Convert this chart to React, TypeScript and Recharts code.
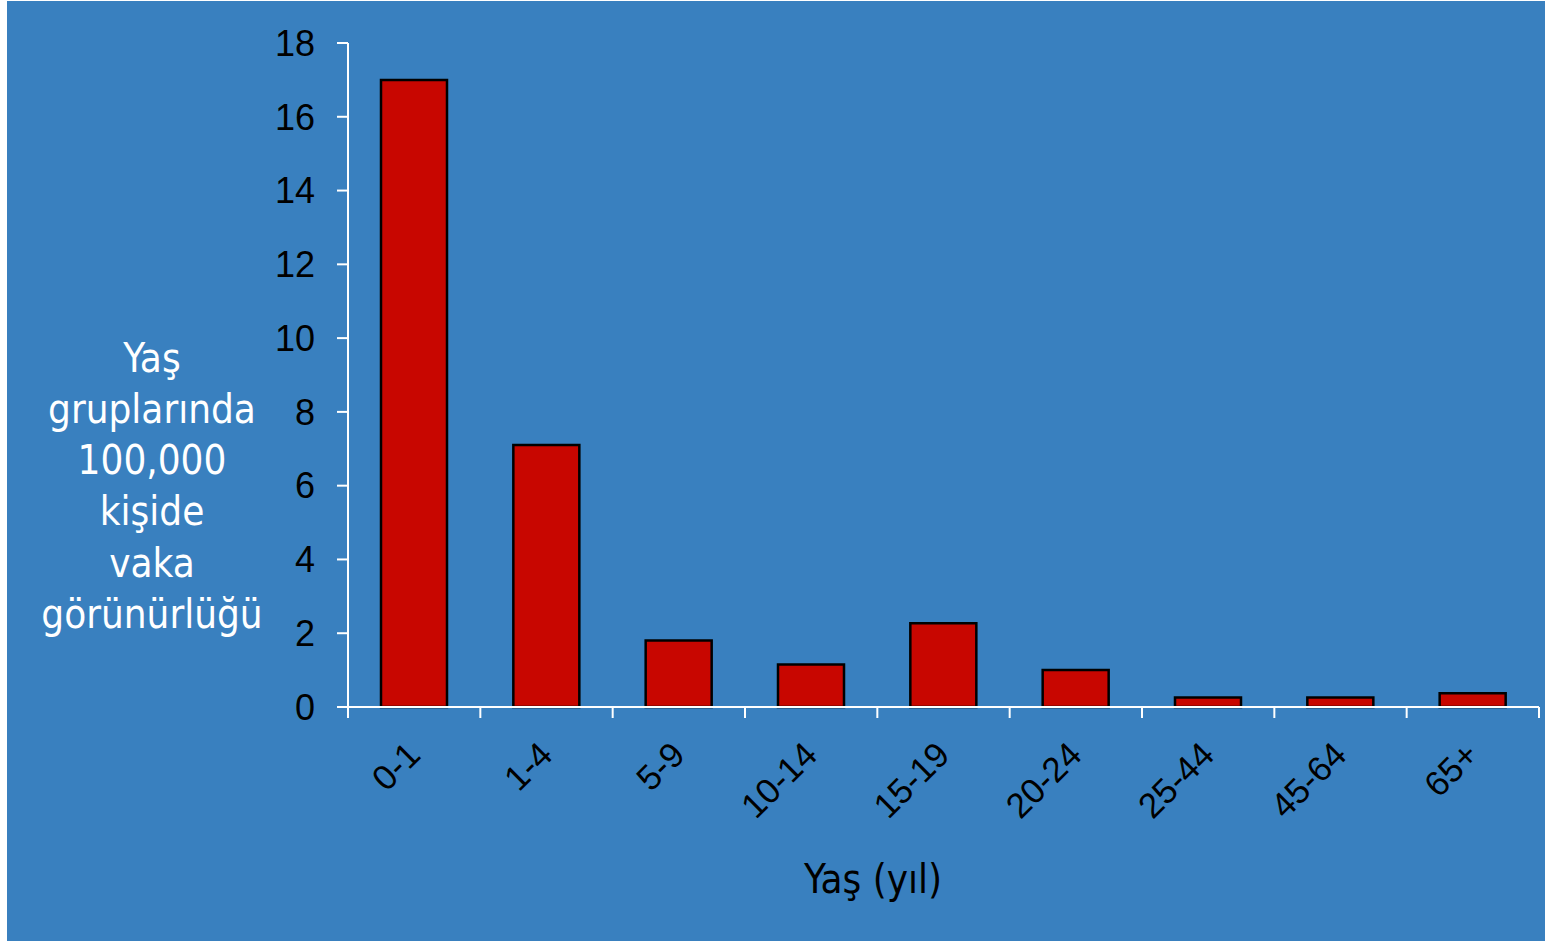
import React from 'react';
import { BarChart, Bar, XAxis, YAxis, Label } from 'recharts';

const categories = ['0-1', '1-4', '5-9', '10-14', '15-19', '20-24', '25-44', '45-64', '65+'];
const incidence = [17.0, 7.1, 1.8, 1.15, 2.27, 1.0, 0.26, 0.26, 0.37];
const yTicks = [0, 2, 4, 6, 8, 10, 12, 14, 16, 18];
const yTitleLines = ['Yaş', 'gruplarında', '100,000', 'kişide', 'vaka', 'görünürlüğü'];
const xTitle = 'Yaş (yıl)';

const data = categories.map((c, i) => ({ name: c, value: incidence[i] }));

const BG = '#3980bf';
const LABEL_FONT = '"DejaVu Sans Condensed", "DejaVu Sans", sans-serif';
const TICK_FONT = '"Liberation Sans", Arial, sans-serif';

const XTick = (props: any) => {
  const { x, y, payload, index, visibleTicksCount, width } = props;
  const n = visibleTicksCount || categories.length;
  const bw = (typeof width === 'number' && width > 0 ? width : 1191) / n;
  const ax = x + 8;
  const ay = y + 50;
  return (
    <g>
      <line x1={x - bw / 2} y1={y} x2={x - bw / 2} y2={y + 11} stroke="#fff" strokeWidth={2} />
      {index === n - 1 && (
        <line x1={x + bw / 2} y1={y} x2={x + bw / 2} y2={y + 11} stroke="#fff" strokeWidth={2} />
      )}
      <text
        x={ax}
        y={ay}
        transform={`rotate(-45 ${ax} ${ay})`}
        textAnchor="end"
        fill="#000"
        fontSize={35}
        fontFamily={TICK_FONT}
      >
        {payload.value}
      </text>
    </g>
  );
};

const YTitle = () => (
  <text textAnchor="middle" fill="#fff" fontSize={40} fontFamily={LABEL_FONT}>
    {yTitleLines.map((l, i) => (
      <tspan key={i} x={145} y={370.5 + i * 51.3}>
        {l}
      </tspan>
    ))}
  </text>
);

const XTitle = () => (
  <text x={866} y={892} textAnchor="middle" fill="#000" fontSize={40} fontFamily={LABEL_FONT}>
    {xTitle}
  </text>
);

export default function App() {
  return (
    <div
      style={{
        position: 'absolute',
        left: 7,
        top: 1,
        width: 1538,
        height: 940,
        background: BG,
      }}
    >
      <BarChart
        width={1538}
        height={940}
        data={data}
        margin={{ top: 42, right: 6, left: 0, bottom: 0 }}
        barSize={66}
      >
        <XAxis
          dataKey="name"
          height={234}
          interval={0}
          axisLine={{ stroke: '#fff', strokeWidth: 2 }}
          tickLine={false}
          tickSize={0}
          tickMargin={0}
          tick={<XTick />}
        >
          <Label content={<XTitle />} />
        </XAxis>
        <YAxis
          width={341}
          domain={[0, 18]}
          ticks={yTicks}
          interval={0}
          axisLine={{ stroke: '#fff', strokeWidth: 2 }}
          tickLine={{ stroke: '#fff', strokeWidth: 2 }}
          tickSize={11}
          tickMargin={22}
          tick={{ fill: '#000', fontSize: 36, fontFamily: TICK_FONT }}
        >
          <Label content={<YTitle />} />
        </YAxis>
        <Bar dataKey="value" fill="#c80600" stroke="#000" strokeWidth={2.5} isAnimationActive={false} />
      </BarChart>
    </div>
  );
}
